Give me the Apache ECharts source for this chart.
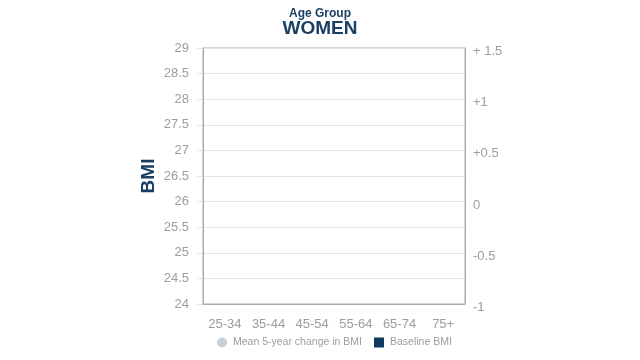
<!DOCTYPE html>
<html><head><meta charset="utf-8">
<script src="https://cdn.jsdelivr.net/npm/echarts@6/dist/echarts.min.js"></script>
<style>html,body{margin:0;padding:0;background:#fff}#c{width:640px;height:360px}</style>
</head><body><div id="c"></div>
<script>
var categories = ['25-34', '35-44', '45-54', '55-64', '65-74', '75+'];
var baselineBMI = [null, null, null, null, null, null];
var meanChange = [null, null, null, null, null, null];
var leftTicks = [24, 29, 0.5];
var rightTicks = [-1, 1.5, 0.5];

var navy = '#1a3f63';
var grey = '#9d9d9d';
var chart = echarts.init(document.getElementById('c'));
chart.setOption({
  animation: false,
  textStyle: {fontFamily: 'Liberation Sans, Arial, sans-serif'},
  title: [
    {text: 'Age Group', left: 'center', top: 3, textStyle: {fontSize: 12, fontWeight: 'bold', color: navy}},
    {text: 'WOMEN', left: 'center', top: 14, textStyle: {fontSize: 19, fontWeight: 'bold', color: navy}}
  ],
  legend: {
    bottom: 7, left: 212, itemGap: 12, itemWidth: 10, itemHeight: 10,
    textStyle: {fontSize: 10.5, color: grey, padding: [0, 0, 0, 1]},
    data: [
      {name: 'Mean 5-year change in BMI', icon: 'circle'},
      {name: 'Baseline BMI', icon: 'rect'}
    ]
  },
  grid: {left: 203, right: 175, top: 48, bottom: 56, show: true, borderColor: '#aaa', borderWidth: 1, backgroundColor: 'transparent'},
  xAxis: {
    type: 'category', data: categories,
    axisLine: {show: true, onZero: false, lineStyle: {color: '#aaa'}},
    axisTick: {show: false},
    axisLabel: {color: grey, fontSize: 13, margin: 14}
  },
  yAxis: [
    {
      type: 'value', min: leftTicks[0], max: leftTicks[1], interval: leftTicks[2],
      name: 'BMI', nameLocation: 'middle', nameGap: 45, nameRotate: 90,
      nameTextStyle: {fontSize: 19, fontWeight: 'bold', color: navy},
      axisLine: {show: true, onZero: false, lineStyle: {color: '#aaa'}},
      axisTick: {show: true, length: 6, lineStyle: {color: '#e4e4e4'}},
      axisLabel: {color: grey, fontSize: 13, margin: 14},
      splitLine: {show: true, lineStyle: {color: '#e4e4e4'}}
    },
    {
      type: 'value', min: rightTicks[0], max: rightTicks[1], interval: rightTicks[2],
      position: 'right',
      axisLine: {show: true, onZero: false, lineStyle: {color: '#aaa'}},
      axisTick: {show: false},
      axisLabel: {color: grey, fontSize: 13, margin: 8, lineHeight: 19, verticalAlign: 'top', padding: [-6, 0, 0, 0],
        formatter: function (v) { if (v === 1.5) return '+ 1.5'; return v > 0 ? '+' + v : String(v); }},
      splitLine: {show: false}
    }
  ],
  series: [
    {name: 'Mean 5-year change in BMI', type: 'scatter', yAxisIndex: 1, data: meanChange, itemStyle: {color: '#b7c3cd'}},
    {name: 'Baseline BMI', type: 'bar', yAxisIndex: 0, data: baselineBMI, itemStyle: {color: '#0e3a5f'}}
  ]
});
</script></body></html>
